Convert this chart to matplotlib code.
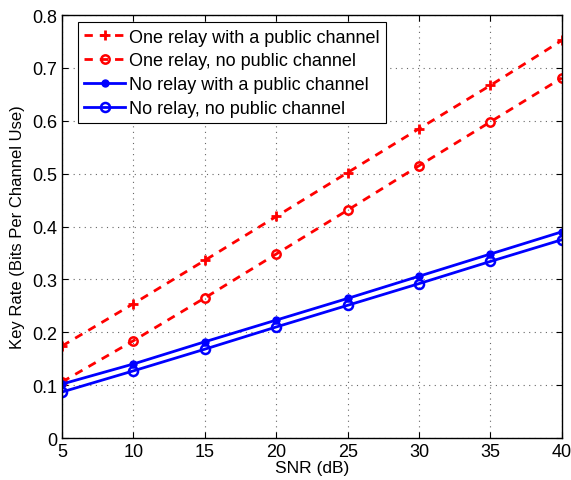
import matplotlib
matplotlib.use("Agg")
import matplotlib.pyplot as plt

plt.rcParams['font.family'] = ['Liberation Sans', 'DejaVu Sans']

# Data
snr = [5, 10, 15, 20, 25, 30, 35, 40]
one_relay_pub = [0.174, 0.254, 0.336, 0.419, 0.502, 0.585, 0.667, 0.752]
one_relay_nopub = [0.106, 0.184, 0.265, 0.348, 0.431, 0.515, 0.598, 0.681]
no_relay_pub = [0.102, 0.140, 0.182, 0.223, 0.264, 0.306, 0.348, 0.390]
no_relay_nopub = [0.087, 0.127, 0.168, 0.210, 0.251, 0.292, 0.334, 0.375]

fig = plt.figure(figsize=(5.71, 4.81), dpi=100)
ax = fig.add_axes([0.1086, 0.0873, 0.8754, 0.8794])

ax.plot(snr, one_relay_pub, 'r--+', lw=2, ms=6.5, mew=2, dashes=(3, 2.5),
        label='One relay with a public channel')
ax.plot(snr, one_relay_nopub, 'r--o', lw=2, ms=6, mew=1.8, mfc='none', dashes=(3, 2.5),
        label='One relay, no public channel')
ax.plot(snr, no_relay_pub, 'b-o', lw=2, ms=5,
        label='No relay with a public channel')
ax.plot(snr, no_relay_nopub, 'b-o', lw=2, ms=6.5, mew=1.8, mfc='none',
        label='No relay, no public channel')

ax.set_xlim(5, 40)
ax.set_ylim(0, 0.8)
ax.set_xticks(range(5, 41, 5))
ax.set_yticks([0, 0.1, 0.2, 0.3, 0.4, 0.5, 0.6, 0.7, 0.8])
ax.set_yticklabels(['0', '0.1', '0.2', '0.3', '0.4', '0.5', '0.6', '0.7', '0.8'])
ax.grid(True, linestyle=(0, (1, 4)), color='0.4', lw=0.8)
ax.tick_params(labelsize=13, direction='in', length=4, top=True, right=True)
for s in ax.spines.values():
    s.set_linewidth(1.0)

ax.set_xlabel('SNR (dB)', fontsize=12.5, labelpad=0)
ax.set_ylabel('Key Rate (Bits Per Channel Use)', fontsize=12, labelpad=5)

leg = ax.legend(loc='upper left', bbox_to_anchor=(0.032, 0.983), borderaxespad=0,
                fontsize=13, fancybox=False, edgecolor='k',
                framealpha=1, handlelength=2.25, handletextpad=0.2,
                borderpad=0.35, labelspacing=0.38)
leg.get_frame().set_linewidth(0.8)

fig.savefig('out.png', dpi=100)
